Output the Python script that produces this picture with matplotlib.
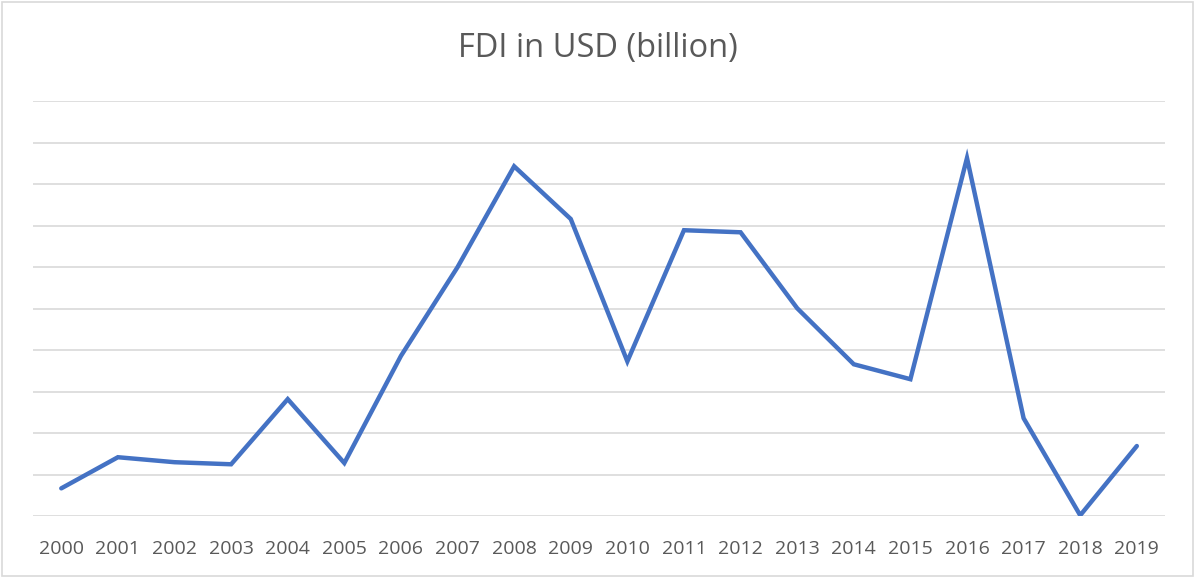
import matplotlib
matplotlib.use("Agg")
import matplotlib.pyplot as plt
from matplotlib.patches import Rectangle

# Years and FDI values (in gridline units; the y axis has no labels)
years = [str(y) for y in range(2000, 2020)]
fdi = [0.67, 1.42, 1.30, 1.25, 2.82, 1.28, 3.86, 6.00, 8.43, 7.16,
       3.73, 6.89, 6.84, 5.01, 3.66, 3.30, 8.63, 2.36, 0.02, 1.69]
grid_levels = list(range(0, 11))

plt.rcParams['font.family'] = ['Open Sans', 'DejaVu Sans']

fig = plt.figure(figsize=(11.95, 5.78), dpi=100)
ax = fig.add_axes([0.0276, 0.107, 0.9474, 0.718])

x = list(range(len(years)))
ax.plot(x, fdi, color='#4472C4', linewidth=3.2, solid_joinstyle='miter',
        solid_capstyle='round', zorder=3)

for g in grid_levels:
    ax.axhline(g, color='#d9d9d9', linewidth=1.2, zorder=1)

ax.set_xlim(-0.5, len(years) - 0.5)
ax.set_ylim(0, 10)
ax.set_xticks(x)
ax.set_xticklabels(years, fontsize=14, color='#595959')
ax.tick_params(axis='x', length=0, pad=17)
ax.set_yticks([])
for s in ax.spines.values():
    s.set_visible(False)

fig.text(0.5, 0.916, 'FDI in USD (billion)', ha='center', va='center',
         fontsize=23.5, color='#595959')

fig.patches.append(Rectangle((0.002, 0.003), 0.996, 0.994, transform=fig.transFigure,
                             fill=False, edgecolor='#d9d9d9', linewidth=1.2))

fig.savefig('out.png', dpi=100)
